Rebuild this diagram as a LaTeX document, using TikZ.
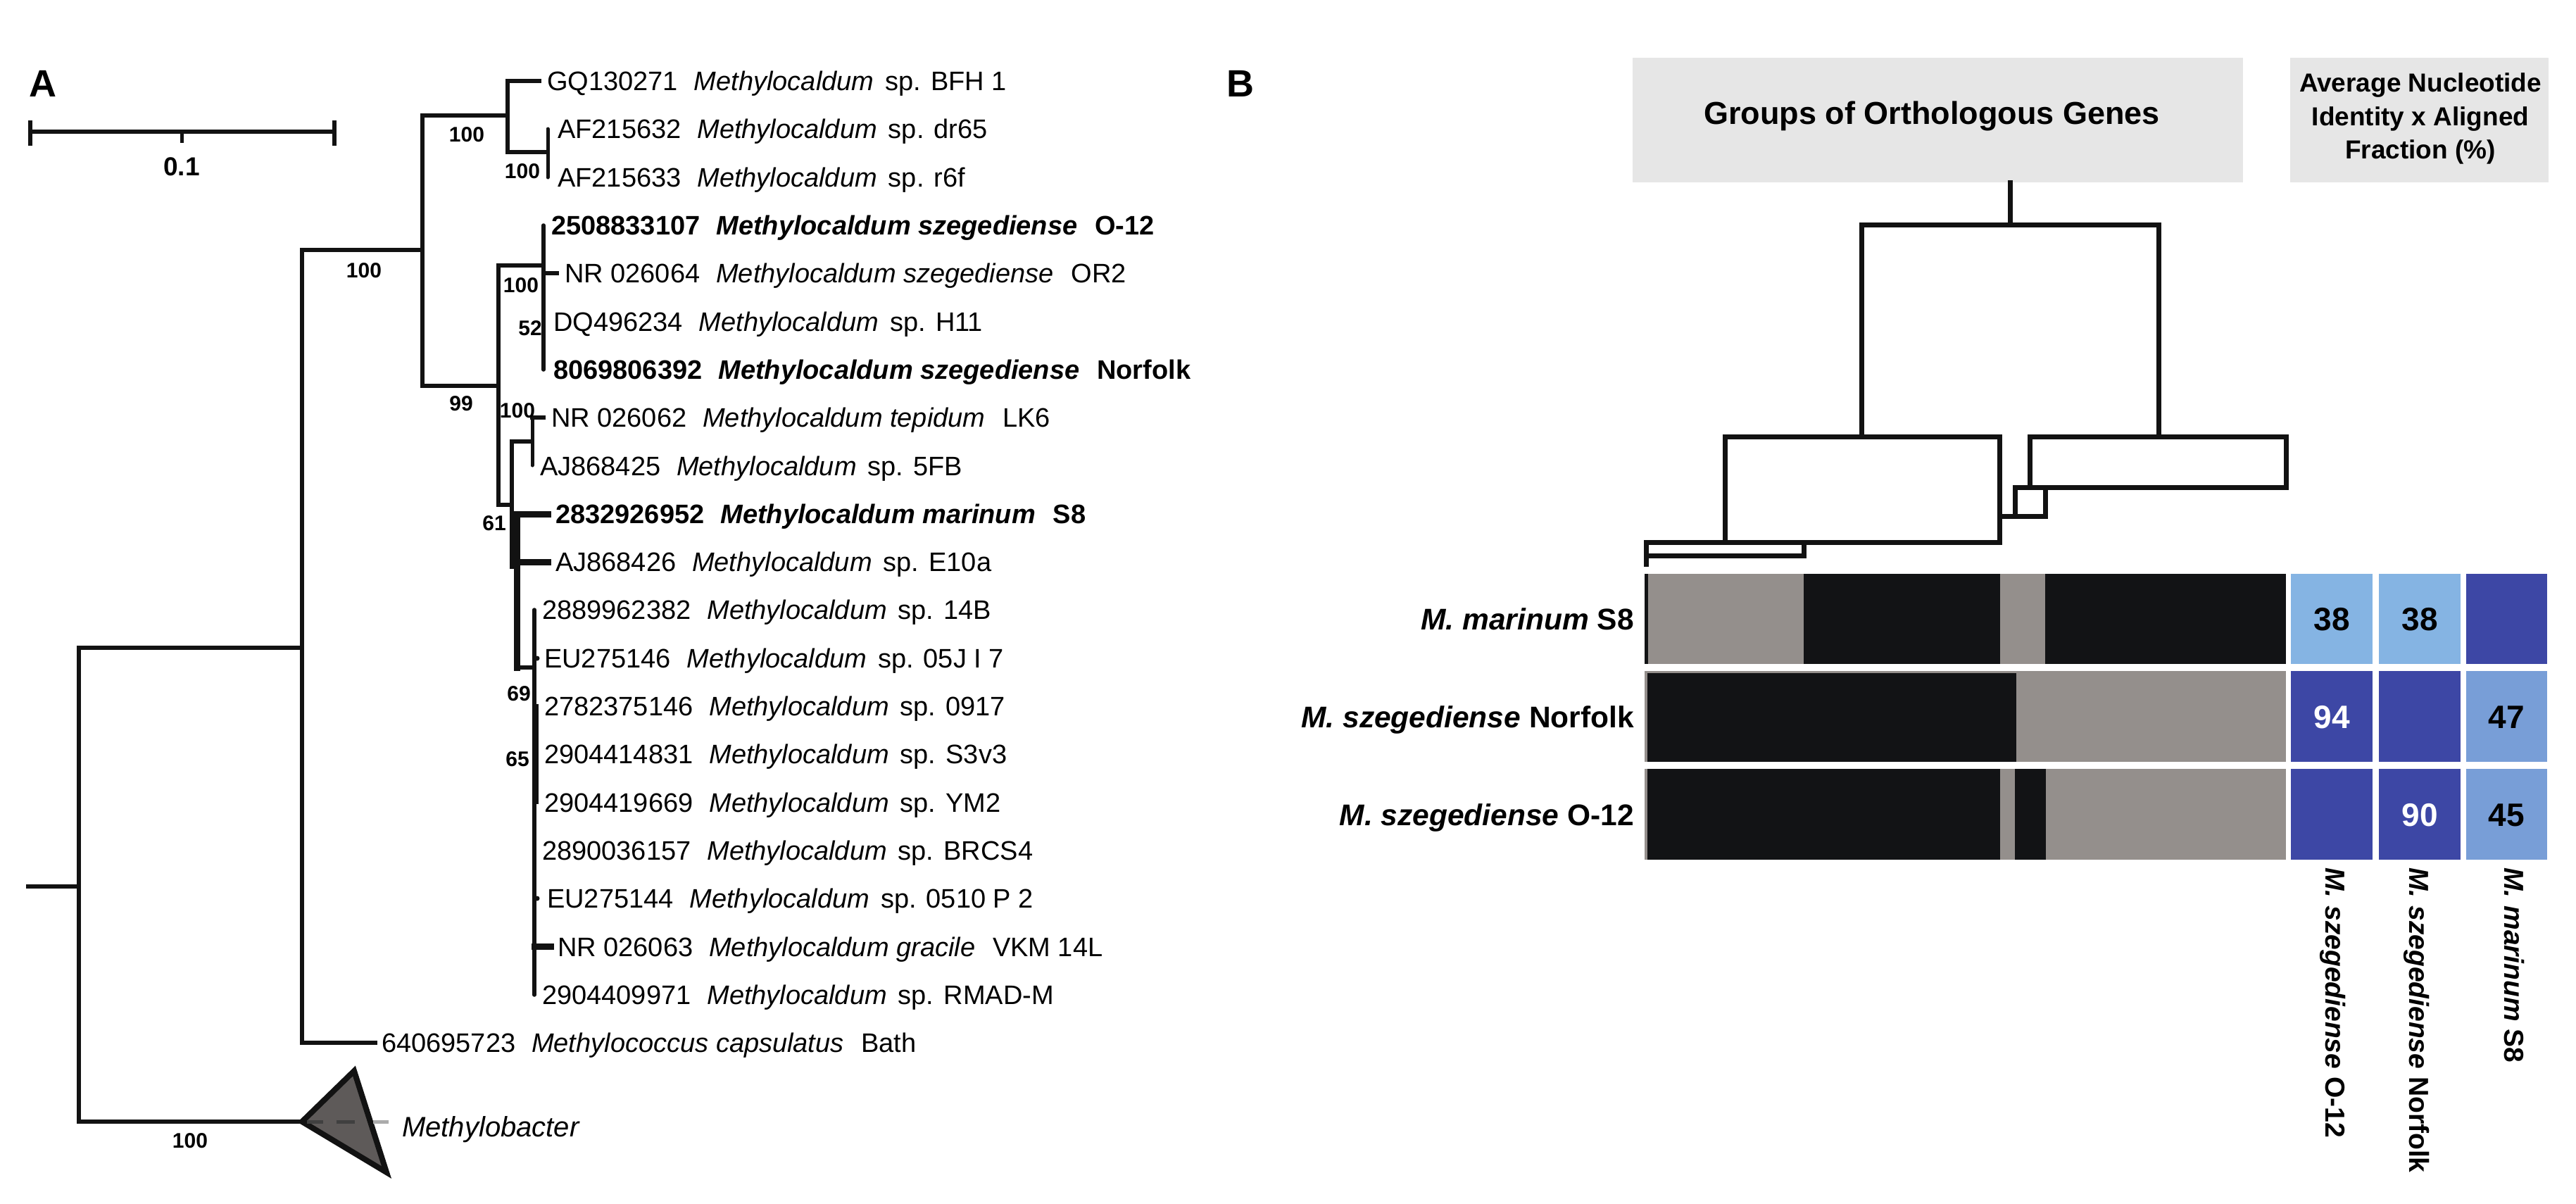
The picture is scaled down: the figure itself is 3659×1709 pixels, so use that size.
\documentclass[tikz,border=0pt]{standalone}
\usepackage{fontspec}
\setmainfont{Liberation Sans}
\definecolor{tline}{HTML}{121212}
\definecolor{hdr}{HTML}{E6E6E6}
\definecolor{hgray}{HTML}{948F8C}
\definecolor{hblack}{HTML}{121315}
\definecolor{lblue}{HTML}{85B4E3}
\definecolor{dblue}{HTML}{3D47A5}
\definecolor{mblue}{HTML}{789ED7}
\definecolor{trigray}{HTML}{5E5A59}
\newcommand\leafA[3]{#1\hspace{0.6em}\textit{#2}\hspace{0.42em}#3}
\newcommand\leafB[3]{#1\hspace{0.6em}\textit{#2}\hspace{0.65em}#3}
\begin{document}
\begin{tikzpicture}[x=1pt,y=-1pt,
  br/.style={line width=6.5pt,line cap=rect,draw=tline},
  brk/.style={line width=9pt,line cap=rect,draw=tline},
  lf/.style={anchor=base west,inner sep=0pt,font=\fontsize{38}{46}\selectfont},
  bs/.style={anchor=center,inner sep=0pt,font=\bfseries\fontsize{30}{36}\selectfont},
  dg/.style={line width=7pt,line cap=rect,draw=tline},
  panel/.style={anchor=base west,inner sep=0pt,font=\bfseries\fontsize{54}{60}\selectfont},
  rowlab/.style={anchor=base east,inner sep=0pt,font=\bfseries\fontsize{42.5}{48}\selectfont},
  collab/.style={anchor=base west,rotate=-90,inner sep=0pt,font=\bfseries\fontsize{39}{44}\selectfont},
  num/.style={anchor=base,inner sep=0pt,font=\bfseries\fontsize{46}{50}\selectfont},
  hdrtxt/.style={anchor=base,inner sep=0pt,font=\bfseries\fontsize{37}{44}\selectfont}]
\useasboundingbox[fill=white] (0,0) rectangle (3659,1709);

% ---------------- Panel A ----------------
\node[panel] (pA) at (41,137) {A};
% scale bar
\draw[line width=6pt,draw=tline] (43,187) -- (475,187);
\draw[line width=6pt,draw=tline] (43,171) -- (43,207);
\draw[line width=6pt,draw=tline] (475,171) -- (475,207);
\draw[line width=5pt,draw=tline] (258,187) -- (258,203);
\node[anchor=center,inner sep=0pt,font=\bfseries\fontsize{37}{42}\selectfont] (scl) at (258,237) {0.1};

% tree branches
\draw[br] (40,1259) -- (112,1259);
\draw[br] (112,920) -- (112,1593);
\draw[br] (112,920) -- (429,920);
\draw[br] (112,1593) -- (429,1593);
\draw[br] (429,355) -- (429,1481);
\draw[br] (429,355) -- (600,355);
\draw[br] (429,1481) -- (533,1481);
\draw[br] (600,164) -- (600,548);
\draw[br] (600,164) -- (721,164);
\draw[br] (600,548) -- (708,548);
\draw[br] (721,115) -- (721,216);
\draw[br] (721,115) -- (766,115);
\draw[br] (721,216) -- (778,216);
\draw[line width=5pt,line cap=round,draw=tline] (778,183) -- (778,252);
\draw[br] (708,377) -- (708,717);
\draw[br] (708,377) -- (772,377);
\draw[line width=5.5pt,line cap=round,draw=tline] (772,320) -- (772,525);
\draw[br] (772,388) -- (791,388);
\draw[br] (708,717) -- (727,717);
\draw[line width=5.5pt,line cap=rect,draw=tline] (727,627) -- (727,805);
\draw[br] (727,627) -- (756,627);
\draw[line width=5pt,line cap=round,draw=tline] (756,593) -- (756,661);
\draw[br] (756,593) -- (772,593);
\draw[brk] (734,730) -- (734,948);
\draw[brk] (734,730) -- (778,730);
\draw[brk] (734,798) -- (778,798);
\draw[br] (734,948) -- (759,948);
\draw[line width=5.5pt,line cap=round,draw=tline] (759,866) -- (759,1413);
\draw[line width=9pt,draw=tline] (760,1000) -- (760,1142);
\draw[brk] (759,1344) -- (782,1344);
\fill[tline] (763,935) circle (3.5);
\fill[tline] (763,1276) circle (3.5);

% collapsed clade
\draw[line width=8pt,line join=miter,draw=tline,fill=trigray] (429,1593) -- (503,1521) -- (549,1665) -- cycle;
\draw[line width=5pt,draw=black!75] (436,1593) -- (459,1593);
\draw[line width=5pt,draw=black!75] (478,1593) -- (504,1593);
\draw[line width=5pt,draw=black!33] (530,1593) -- (552,1593);
\node[lf,font=\itshape\fontsize{40}{46}\selectfont] (mbac) at (571,1614) {Methylobacter};

% bootstrap values
\node[bs] (b1) at (663,191) {100};
\node[bs] (b2) at (742,243) {100};
\node[bs] (b3) at (517,384) {100};
\node[bs] (b4) at (740,405) {100};
\node[bs] (b5) at (753,466) {52};
\node[bs] (b6) at (655,573) {99};
\node[bs] (b7) at (735,583) {100};
\node[bs] (b8) at (702,743) {61};
\node[bs] (b9) at (737,985) {69};
\node[bs] (b10) at (735,1078) {65};
\node[bs] (b11) at (270,1620) {100};

% leaf labels
\node[lf] (l1) at (777,128.6) {\leafA{GQ130271}{Methylocaldum}{sp. BFH 1}};
\node[lf] (l2) at (792,196.9) {\leafA{AF215632}{Methylocaldum}{sp. dr65}};
\node[lf] (l3) at (792,265.2) {\leafA{AF215633}{Methylocaldum}{sp. r6f}};
\node[lf,font=\bfseries\fontsize{38}{46}\selectfont] (l4) at (783,333.5) {\leafB{2508833107}{Methylocaldum szegediense}{O-12}};
\node[lf] (l5) at (802,401.8) {\leafB{NR 026064}{Methylocaldum szegediense}{OR2}};
\node[lf] (l6) at (786,470.1) {\leafA{DQ496234}{Methylocaldum}{sp. H11}};
\node[lf,font=\bfseries\fontsize{38}{46}\selectfont] (l7) at (786,538.4) {\leafB{8069806392}{Methylocaldum szegediense}{Norfolk}};
\node[lf] (l8) at (783,606.7) {\leafB{NR 026062}{Methylocaldum tepidum}{LK6}};
\node[lf] (l9) at (767,675.0) {\leafA{AJ868425}{Methylocaldum}{sp. 5FB}};
\node[lf,font=\bfseries\fontsize{38}{46}\selectfont] (l10) at (789,743.3) {\leafB{2832926952}{Methylocaldum marinum}{S8}};
\node[lf] (l11) at (789,811.6) {\leafA{AJ868426}{Methylocaldum}{sp. E10a}};
\node[lf] (l12) at (770,879.9) {\leafA{2889962382}{Methylocaldum}{sp. 14B}};
\node[lf] (l13) at (773,948.2) {\leafA{EU275146}{Methylocaldum}{sp. 05J I 7}};
\node[lf] (l14) at (773,1016.5) {\leafA{2782375146}{Methylocaldum}{sp. 0917}};
\node[lf] (l15) at (773,1084.8) {\leafA{2904414831}{Methylocaldum}{sp. S3v3}};
\node[lf] (l16) at (773,1153.1) {\leafA{2904419669}{Methylocaldum}{sp. YM2}};
\node[lf] (l17) at (770,1221.4) {\leafA{2890036157}{Methylocaldum}{sp. BRCS4}};
\node[lf] (l18) at (777,1289.7) {\leafA{EU275144}{Methylocaldum}{sp. 0510 P 2}};
\node[lf] (l19) at (792,1358.0) {\leafB{NR 026063}{Methylocaldum gracile}{VKM 14L}};
\node[lf] (l20) at (770,1426.3) {\leafA{2904409971}{Methylocaldum}{sp. RMAD-M}};
\node[lf] (l21) at (542,1494.6) {\leafB{640695723}{Methylococcus capsulatus}{Bath}};

% ---------------- Panel B ----------------
\node[panel] (pB) at (1742,137) {B};
\fill[hdr] (2319,82) rectangle (3186,259);
\fill[hdr] (3253,82) rectangle (3620,259);
\node[anchor=base,inner sep=0pt,font=\bfseries\fontsize{45}{50}\selectfont] (hgog) at (2744,176) {Groups of Orthologous Genes};
\node[hdrtxt] (h1) at (3438,130) {Average Nucleotide};
\node[hdrtxt] (h2) at (3438,178) {Identity x Aligned};
\node[hdrtxt] (h3) at (3438,225) {Fraction (\%)};

% dendrogram
\draw[dg] (2855,259) -- (2855,319);
\draw[dg] (2644,319) -- (3066,319);
\draw[dg] (2644,319) -- (2644,620);
\draw[dg] (3066,319) -- (3066,620);
\draw[dg] (2450,620) -- (2840,620);
\draw[dg] (2450,620) -- (2450,770);
\draw[dg] (2840,620) -- (2840,770);
\draw[dg] (2338,770) -- (2840,770);
\draw[dg] (2338,770) -- (2338,801);
\draw[dg] (2338,789) -- (2562,789);
\draw[dg] (2562,770) -- (2562,789);
\draw[dg] (2883,620) -- (3247,620);
\draw[dg] (2883,620) -- (2883,692);
\draw[dg] (3247,620) -- (3247,692);
\draw[dg] (2862,692) -- (3247,692);
\draw[dg] (2862,692) -- (2862,733);
\draw[dg] (2905,692) -- (2905,733);
\draw[dg] (2840,733) -- (2905,733);

% heatmap rows
% row 1
\fill[hgray] (2338,815) rectangle (2562,943);
\fill[hblack] (2562,815) rectangle (2841,943);
\fill[hgray] (2841,815) rectangle (2905,943);
\fill[hblack] (2905,815) rectangle (3247,943);
\fill[hblack] (2336,815) rectangle (2341,943);
% row 2
\fill[hblack] (2338,953) rectangle (2864,1082);
\fill[hgray] (2864,953) rectangle (3247,1082);
\fill[hgray] (2336,953) rectangle (2340,1082);
\fill[hgray] (2336,953) rectangle (2864,956);
% row 3
\fill[hblack] (2338,1092) rectangle (2841,1221);
\fill[hgray] (2841,1092) rectangle (2862,1221);
\fill[hblack] (2862,1092) rectangle (2906,1221);
\fill[hgray] (2906,1092) rectangle (3247,1221);
\fill[hgray] (2336,1092) rectangle (2340,1221);

% ANI cells
\fill[lblue] (3254,815) rectangle (3370,943);
\fill[lblue] (3379,815) rectangle (3495,943);
\fill[dblue] (3503,815) rectangle (3618,943);
\fill[dblue] (3254,953) rectangle (3370,1082);
\fill[dblue] (3379,953) rectangle (3495,1082);
\fill[mblue] (3503,953) rectangle (3618,1082);
\fill[dblue] (3254,1092) rectangle (3370,1221);
\fill[dblue] (3379,1092) rectangle (3495,1221);
\fill[mblue] (3503,1092) rectangle (3618,1221);

\node[num] (n11) at (3312,895.5) {38};
\node[num] (n12) at (3437,895.5) {38};
\node[num,text=white] (n21) at (3312,1034) {94};
\node[num] (n23) at (3560,1034) {47};
\node[num,text=white] (n32) at (3437,1173) {90};
\node[num] (n33) at (3560,1173) {45};

% row labels
\node[rowlab] (r1) at (2321,894) {\textit{M. marinum} S8};
\node[rowlab] (r2) at (2321,1033) {\textit{M. szegediense} Norfolk};
\node[rowlab] (r3) at (2321,1172) {\textit{M. szegediense} O-12};

% column labels
\node[collab] (c1) at (3303,1232) {\textit{M. szegediense} O-12};
\node[collab] (c2) at (3422,1232) {\textit{M. szegediense} Norfolk};
\node[collab] (c3) at (3557,1232) {\textit{M. marinum} S8};
\end{tikzpicture}
\end{document}
